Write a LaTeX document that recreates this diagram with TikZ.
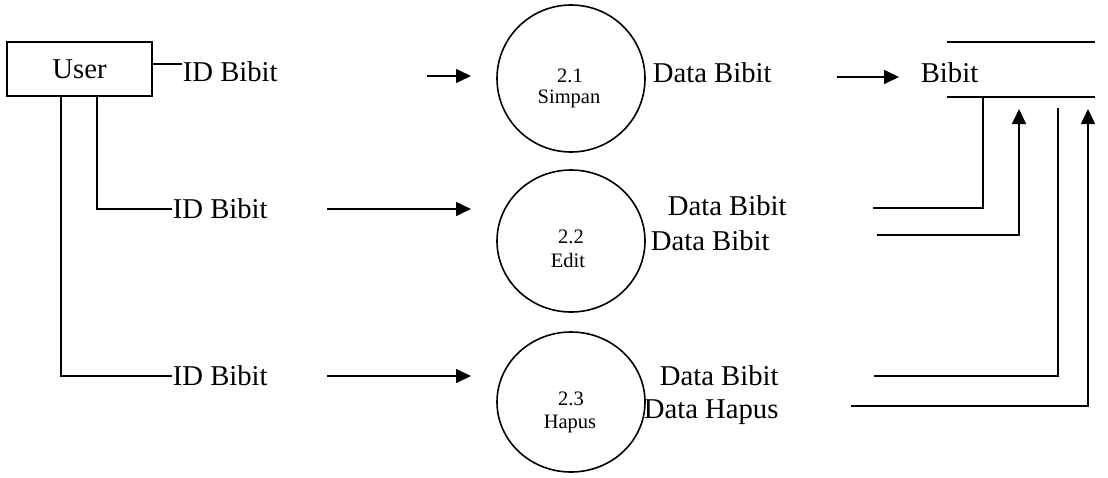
\documentclass[tikz,border=0pt]{standalone}
\usepackage{fontspec}
\setmainfont{Liberation Serif}
\usetikzlibrary{arrows.meta,shapes.geometric}
\begin{document}
\begin{tikzpicture}[x=1pt,y=-1pt,
  line width=1.6pt,
  flow/.style={-{Triangle[length=15pt,width=14pt]}},
  lbl/.style={inner sep=0pt,anchor=base west,font=\fontsize{28.7}{34}\selectfont},
  flowlbl/.style={inner sep=0pt,anchor=west,font=\fontsize{28.7}{34}\selectfont},
  proc/.style={draw,ellipse,inner sep=0pt,minimum width=148pt},
  pnum/.style={inner sep=0pt,anchor=base,font=\fontsize{20.5}{24}\selectfont},
  ent/.style={draw,inner sep=0pt,minimum width=145pt,minimum height=54pt,
    font=\fontsize{28.7}{34}\selectfont}]
\useasboundingbox (0,0) rectangle (1108,477);

% external entity
\node[ent] (user) at (79.5,69) {User};

% processes
\node[proc,minimum height=147pt] (p1) at (571,78.5) {};
\node[proc,minimum height=142pt] (p2) at (571,241) {};
\node[proc,minimum height=140pt] (p3) at (571,402) {};
\node[pnum] (p1n) at (570,82) {2.1};
\node[pnum] (p1t) at (569,103) {Simpan};
\node[pnum] (p2n) at (571,243) {2.2};
\node[pnum] (p2t) at (568,267) {Edit};
\node[pnum] (p3n) at (571,405) {2.3};
\node[pnum] (p3t) at (570,428) {Hapus};

% data store
\coordinate (st1) at (947,42);
\coordinate (st2) at (1095,42);
\coordinate (st3) at (947,97);
\coordinate (st4) at (1095,97);
\draw (st1) -- (st2);
\draw (st3) -- (st4);
\node[lbl] (bibit) at (920,82) {Bibit};

% input flows from User
\node[flowlbl] (id1) at (182,72) {ID Bibit};
\node[flowlbl] (id2) at (172,209) {ID Bibit};
\node[flowlbl] (id3) at (172,376) {ID Bibit};
\draw (user.east |- 0,64) -- (id1.west |- 0,64);
\draw (user.south -| 97,0) |- (id2.west);
\draw (user.south -| 61,0) |- (id3.west);

\coordinate (a1s) at (427,76);  \coordinate (a1e) at (471,76);
\coordinate (a2s) at (327,209); \coordinate (a2e) at (471,209);
\coordinate (a3s) at (327,376); \coordinate (a3e) at (471,376);
\draw[flow] (a1s) -- (a1e);
\draw[flow] (a2s) -- (a2e);
\draw[flow] (a3s) -- (a3e);

% flows between processes and the store
\node[lbl] (d1) at (652,82) {Data Bibit};
\node[lbl] (d2a) at (667,215) {Data Bibit};
\node[lbl] (d2b) at (650,250) {Data Bibit};
\node[lbl] (d3a) at (659,385) {Data Bibit};
\node[lbl] (d3b) at (643,418) {Data Hapus};

\coordinate (a4s) at (837,77); \coordinate (a4e) at (899,77);
\draw[flow] (a4s) -- (a4e);

\coordinate (r1) at (873,208);  \coordinate (s1) at (983,97);
\coordinate (r2) at (877,235);  \coordinate (s2) at (1019,109);
\coordinate (r3) at (874,376);  \coordinate (s3) at (1058,108);
\coordinate (r4) at (851,406);  \coordinate (s4) at (1088,109);
\draw (r1) -| (s1);
\draw[flow] (r2) -| (s2);
\draw (r3) -| (s3);
\draw[flow] (r4) -| (s4);
\end{tikzpicture}
\end{document}
